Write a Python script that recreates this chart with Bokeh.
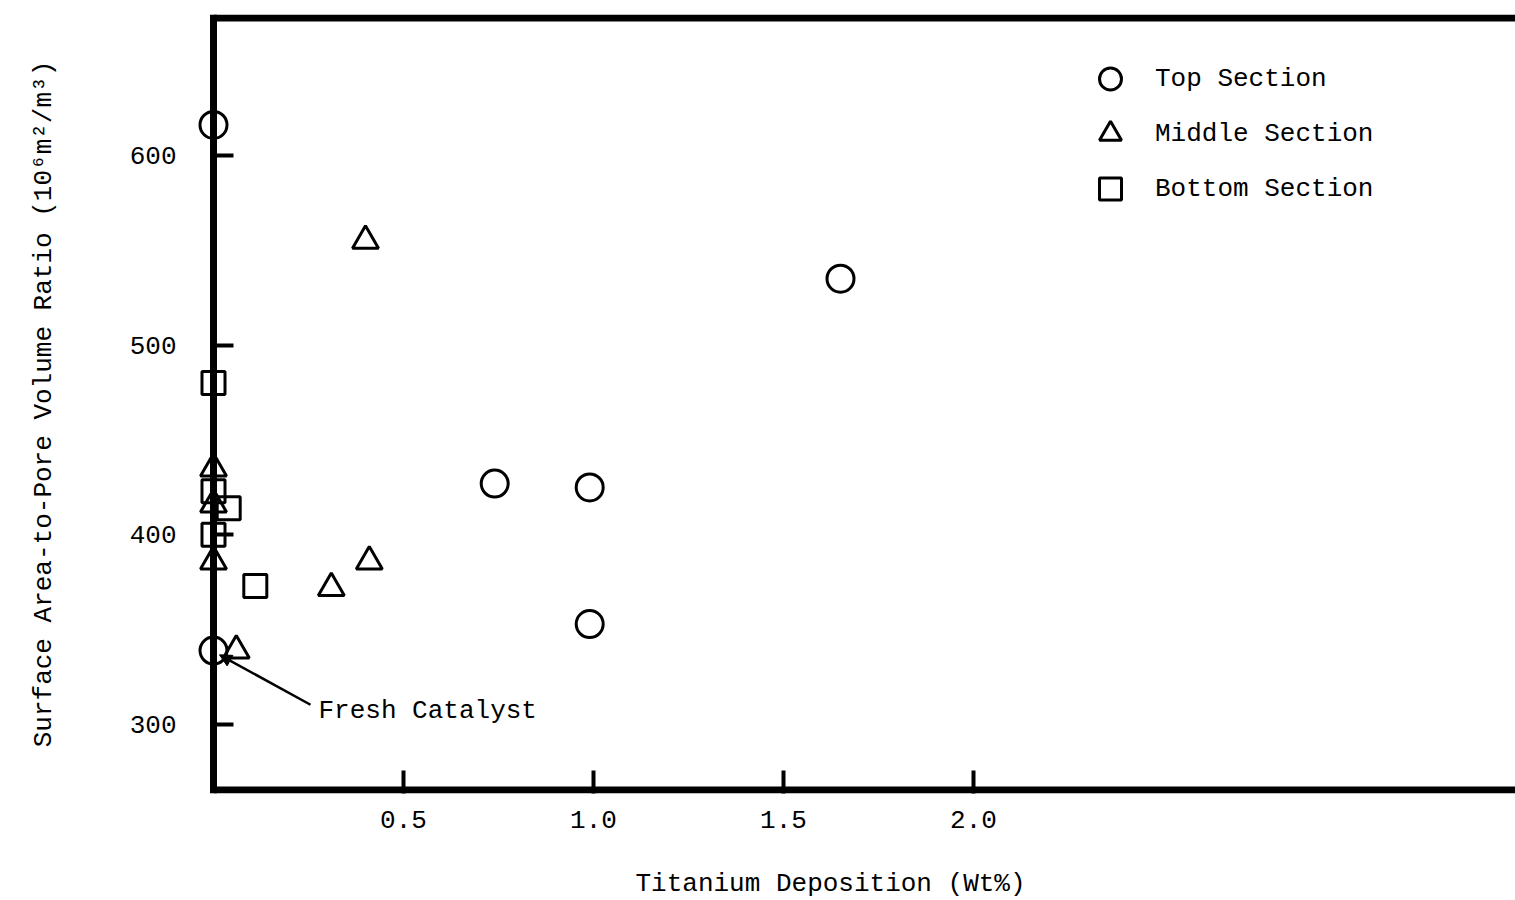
from bokeh.plotting import figure
from bokeh.models import (Range1d, LinearAxis, FixedTicker, Legend, LegendItem,
                          Arrow, NormalHead, Label, PrintfTickFormatter, Title)
from bokeh.embed import file_html
from bokeh.resources import INLINE

# ---------------- data ----------------
top_x = [0.0, 1.65, 0.74, 0.99, 0.99, 0.0]
top_y = [616, 535, 427, 425, 353, 339]

mid_x = [0.40, 0.0, 0.0, 0.0, 0.41, 0.31, 0.06]
mid_y = [555, 435, 416, 386, 386, 372, 339]

bot_x = [0.0, 0.0, 0.04, 0.0, 0.11]
bot_y = [480, 423, 414, 400, 373]

x_ticks = [0.5, 1.0, 1.5, 2.0]
y_ticks = [300, 400, 500, 600]

series_labels = ["Top Section", "Middle Section", "Bottom Section"]
x_title = "Titanium Deposition (Wt%)"
y_title = "Surface Area-to-Pore Volume Ratio (10\u2076m\u00b2/m\u00b3)"
note_text = "Fresh Catalyst"

# ---------------- layout ----------------
FONT = "Liberation Mono"
FS = "26px"
W, H = 1515, 900
ML, MT, MB = 192, 14, 105
frame_w = W - ML
frame_h = H - MT - MB
PX_X = 380.0          # px per wt%
PX_Y = 1.9026         # px per unit of ratio
x0_page = 213
x_start = -(x0_page - ML) / PX_X
x_end = x_start + frame_w / PX_X
y_end = 674.2
y_start = y_end - frame_h / PX_Y

p = figure(width=W, height=H, x_range=Range1d(x_start, x_end),
           y_range=Range1d(y_start, y_end), output_backend="svg",
           toolbar_location=None, x_axis_type=None, y_axis_type=None,
           min_border_left=ML, min_border_right=0, min_border_top=MT,
           min_border_bottom=MB)
p.outline_line_color = None
p.background_fill_color = "white"
p.border_fill_color = "white"

# bottom axis
xaxis = LinearAxis(ticker=FixedTicker(ticks=x_ticks),
                   formatter=PrintfTickFormatter(format="%.1f"))
xaxis.axis_line_color = None
xaxis.major_tick_in = 23
xaxis.major_tick_out = 0
xaxis.major_tick_line_width = 4
xaxis.minor_tick_line_color = None
xaxis.major_label_text_font = FONT
xaxis.major_label_text_font_size = FS
xaxis.major_label_text_color = "black"
xaxis.major_label_standoff = 17
# spacer between tick labels and the title
xaxis.axis_label = "\u00a0"
xaxis.axis_label_text_font = FONT
xaxis.axis_label_text_font_size = "18px"
xaxis.axis_label_standoff = 15
p.add_layout(xaxis, "below")

# x-axis title, placed as a title below the axis (off-centre as in the original)
p.add_layout(Title(text=x_title, align="left", offset=443, text_font=FONT,
                   text_font_size=FS, text_font_style="normal",
                   text_color="black", standoff=0, vertical_align="top"), "below")

# left axis ticks, fixed at x = 0 (inside the frame)
ytick_axis = LinearAxis(ticker=FixedTicker(ticks=y_ticks), fixed_location=0)
ytick_axis.axis_line_color = None
ytick_axis.major_tick_in = 20
ytick_axis.major_tick_out = 0
ytick_axis.major_tick_line_width = 4
ytick_axis.minor_tick_line_color = None
ytick_axis.major_label_text_alpha = 0
p.add_layout(ytick_axis, "left")

# left axis labels and title at the frame edge
ylab_axis = LinearAxis(ticker=FixedTicker(ticks=y_ticks))
ylab_axis.axis_line_color = None
ylab_axis.major_tick_line_color = None
ylab_axis.major_tick_in = 0
ylab_axis.major_tick_out = 0
ylab_axis.minor_tick_line_color = None
ylab_axis.major_label_text_font = FONT
ylab_axis.major_label_text_font_size = FS
ylab_axis.major_label_text_color = "black"
ylab_axis.major_label_standoff = 16
ylab_axis.axis_label = y_title
ylab_axis.axis_label_text_font = FONT
ylab_axis.axis_label_text_font_size = FS
ylab_axis.axis_label_text_font_style = "normal"
ylab_axis.axis_label_text_color = "black"
ylab_axis.axis_label_standoff = 68
p.add_layout(ylab_axis, "left")

# heavy frame lines (left, top, bottom)
LW = 7
half_y = (LW / 2) / PX_Y
y_top_line = y_end - half_y
y_bot_line = y_start + half_y
p.segment(x0=[0, 0, 0], y0=[y_bot_line, y_top_line, y_start],
          x1=[x_end, x_end, 0], y1=[y_bot_line, y_top_line, y_end],
          line_width=LW, line_color="black")

# data
r_top = p.scatter(top_x, top_y, marker="circle", size=27, line_color="black",
                  line_width=3, fill_alpha=0)
r_mid = p.scatter(mid_x, mid_y, marker="triangle", size=26, line_color="black",
                  line_width=3, fill_alpha=0)
r_bot = p.scatter(bot_x, bot_y, marker="square", size=23, line_color="black",
                  line_width=3, fill_alpha=0)

legend = Legend(items=[LegendItem(label=series_labels[0], renderers=[r_top]),
                       LegendItem(label=series_labels[1], renderers=[r_mid]),
                       LegendItem(label=series_labels[2], renderers=[r_bot])],
                location=(888, 577))
legend.glyph_width = 60
legend.glyph_height = 55
legend.spacing = 0
legend.padding = 0
legend.margin = 0
legend.label_standoff = 15
legend.border_line_color = None
legend.background_fill_alpha = 0
legend.label_text_font = FONT
legend.label_text_font_size = FS
legend.label_text_color = "black"
p.add_layout(legend)

# "Fresh Catalyst" note with arrow
def vy(page_y):
    return y_end - (page_y - MT) / PX_Y

def vx(page_x):
    return (page_x - x0_page) / PX_X

p.add_layout(Label(x=vx(318), y=vy(712), text=note_text, text_font=FONT,
                   text_font_size=FS, text_baseline="middle", text_color="black"))
p.add_layout(Arrow(end=NormalHead(size=12, fill_color="black", line_color="black"),
                   x_start=vx(310), y_start=vy(706), x_end=vx(219), y_end=vy(656),
                   line_width=2.5, line_color="black"))

open("out.html", "w").write(file_html(p, INLINE))
